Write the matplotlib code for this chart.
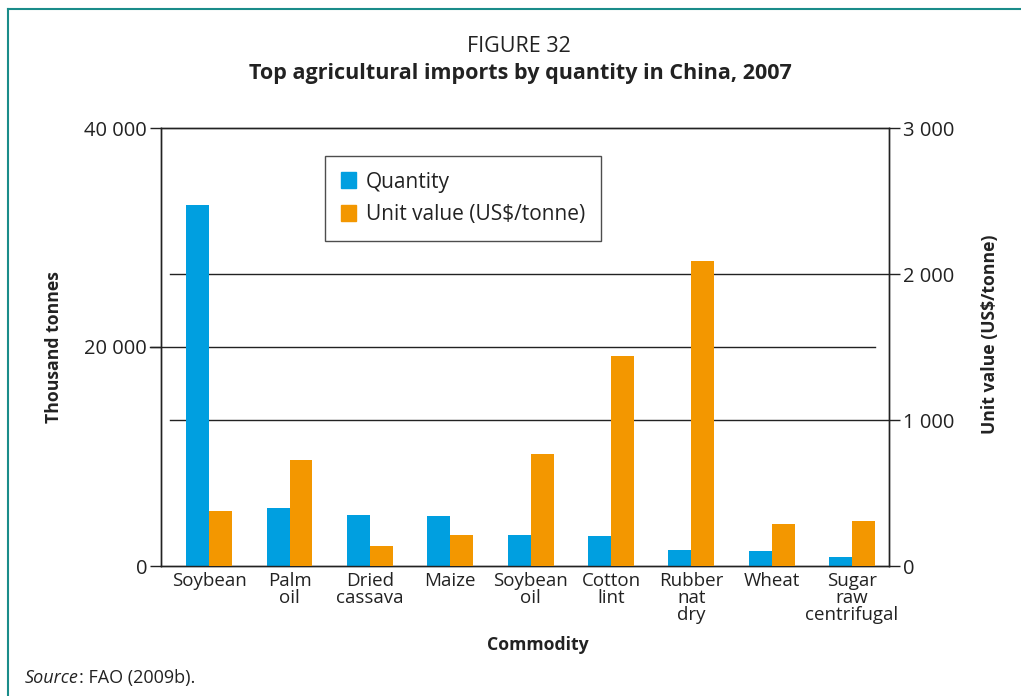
import numpy as np
import matplotlib.pyplot as plt
from matplotlib.lines import Line2D
from matplotlib.patches import Patch

# Data
commodities = ['Soybean', 'Palm\noil', 'Dried\ncassava', 'Maize', 'Soybean\noil',
               'Cotton\nlint', 'Rubber\nnat\ndry', 'Wheat', 'Sugar\nraw\ncentrifugal']
quantity = [33000, 5300, 4650, 4550, 2850, 2750, 1450, 1350, 800]      # thousand tonnes
unit_value = [377, 726, 137, 212, 767, 1438, 2089, 288, 308]            # US$/tonne

left_ticks = [0, 20000, 40000]
left_labels = ['0', '20 000', '40 000']
right_ticks = [0, 1000, 2000, 3000]
right_labels = ['0', '1 000', '2 000', '3 000']

blue = '#009fe0'
orange = '#f39700'
ink = '#222222'

plt.rcParams['font.family'] = ['Open Sans', 'DejaVu Sans']

fig = plt.figure(figsize=(10.21, 6.96), dpi=100)
ax = fig.add_axes([161/1021, 1-566/696, 728/1021, 438/696])
ax2 = ax.twinx()

x = np.arange(len(commodities))
w = 0.285
ax.bar(x - w/2, quantity, w, color=blue, zorder=3, label='Quantity')
ax2.bar(x + w/2, unit_value, w, color=orange, zorder=3, label='Unit value (US$/tonne)')

ax.set_xlim(-0.6, 8.46)
ax.set_ylim(0, 40000)
ax2.set_ylim(0, 3000)

# gridlines (mixed: left 20 000, right 1 000 and 2 000)
ratio = 40000 / 3000
ax.axhline(20000, xmin=-0.015, xmax=0.981, color=ink, lw=1, zorder=1, clip_on=False)
for v in [1000, 2000]:
    ax.axhline(v * ratio, xmin=0.012, xmax=1.0, color=ink, lw=1, zorder=1)

for a in (ax, ax2):
    for s in a.spines.values():
        s.set_color(ink)
        s.set_linewidth(1)

ax.set_yticks(left_ticks)
ax.set_yticklabels(left_labels)
ax2.set_yticks(right_ticks)
ax2.set_yticklabels(right_labels)
ax.tick_params(axis='y', length=8, width=1, color=ink, labelsize=14.5, labelcolor=ink, pad=2)
ax2.tick_params(axis='y', length=8, width=1, color=ink, labelsize=14.5, labelcolor=ink, pad=2)

ax.set_xticks(x)
ax.set_xticklabels(commodities, fontsize=13.5, color=ink, linespacing=0.95)
ax.tick_params(axis='x', length=0, pad=4)

ax.set_ylabel('Thousand tonnes', fontsize=12.7, fontweight='bold', color=ink)
ax.yaxis.set_label_coords(-0.135, 0.5)
ax2.set_ylabel('Unit value (US$/tonne)', fontsize=12.7, fontweight='bold', color=ink)
ax2.yaxis.set_label_coords(1.127, 0.53)
ax.set_xlabel('Commodity', fontsize=12.7, fontweight='bold', color=ink)
ax.xaxis.set_label_coords(0.518, -0.16)

handles = [Patch(color=blue, label='Quantity'),
           Patch(color=orange, label='Unit value (US$/tonne)')]
leg = ax.legend(handles=handles, loc='upper left', bbox_to_anchor=(0.211, 0.96),
                fontsize=15, frameon=True, fancybox=False, handlelength=0.75,
                handleheight=0.8, handletextpad=0.45, borderpad=0.75, labelspacing=0.55)
leg.get_frame().set_edgecolor(ink)
leg.get_frame().set_linewidth(1)
leg.set_zorder(5)
for t in leg.get_texts():
    t.set_color(ink)

fig.text(519/1021, 1-47/696, 'FIGURE 32', ha='center', va='center', fontsize=15.5, color=ink)
fig.text(520/1021, 1-74/696, 'Top agricultural imports by quantity in China, 2007',
         ha='center', va='center', fontsize=15.5, fontweight='bold', color=ink)

src = fig.text(25/1021, 1-678/696, 'Source', style='italic', fontsize=13, color=ink, va='center')
ax.annotate(': FAO (2009b).', xy=(1, 0.5), xycoords=src, va='center', ha='left',
            fontsize=13, color=ink, annotation_clip=False)

# teal frame
teal = '#1a8c8a'
fig.add_artist(Line2D([8/1021, 8/1021], [0, 1-9/696], color=teal, lw=1.5))
fig.add_artist(Line2D([8/1021, 1], [1-9/696, 1-9/696], color=teal, lw=1.5))

fig.savefig('out.png', dpi=100)
